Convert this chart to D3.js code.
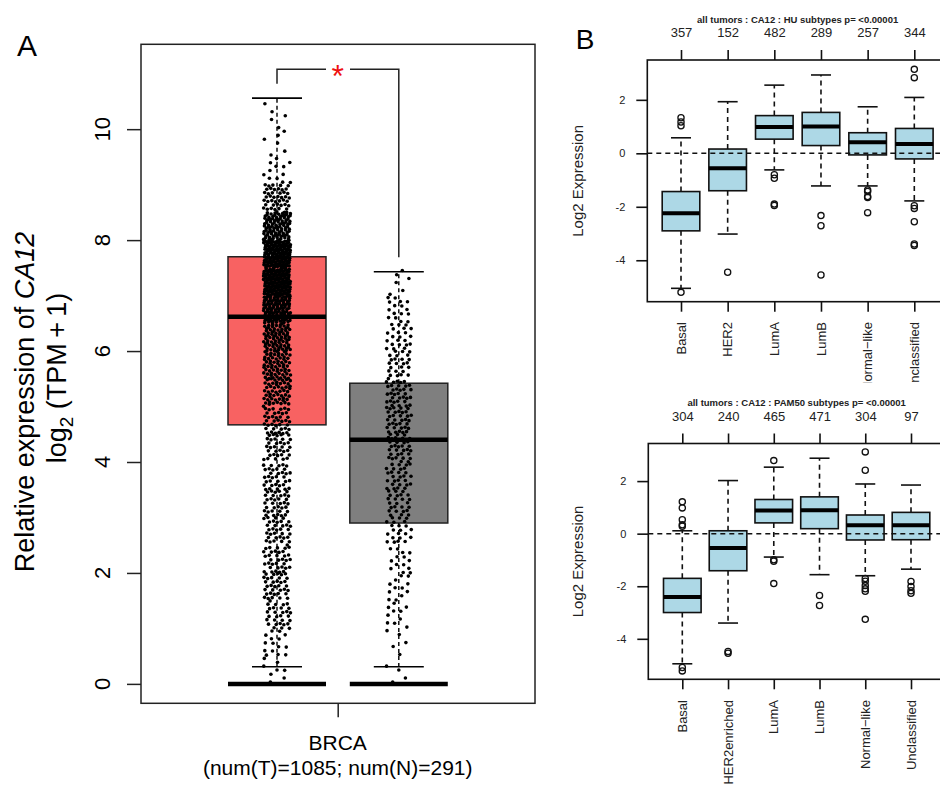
<!DOCTYPE html>
<meta charset="utf-8">
<script src="https://cdn.jsdelivr.net/npm/d3@7"></script>
<style>
  body { margin: 0; background: #fff; }
  svg { font-family: "Liberation Sans", Arial, Helvetica, sans-serif; }
</style>
<div id="chart"></div>
<script>
// ---- Panel A: CA12 in BRCA, tumor vs normal ----
const groupsA = ["Tumor", "Normal"];
const whiskLowA = [0.31, 0.31];
const q1A = [4.67, 2.90];
const medianA = [6.62, 4.40];
const q3A = [7.70, 5.42];
const whiskHighA = [10.56, 7.43];
const ticksA = [0, 2, 4, 6, 8, 10];
// number of dots per 0.5-wide slice, starting at 0 (counted roughly off the strips)
const tumorBins = [8, 15, 30, 35, 35, 35, 35, 35, 35, 40, 55, 65, 80, 120, 150, 150, 100, 45, 12, 6, 5];
const normalBins = [4, 5, 10, 12, 14, 22, 25, 28, 33, 35, 34, 25, 22, 16, 6];

// ---- Panel B top: HU subtypes ----
const huNames = ["Basal", "HER2", "LumA", "LumB", "Normal\u2212like", "Unclassified"];
const huCounts = [357, 152, 482, 289, 257, 344];
const huLow = [-5.05, -3.02, -0.62, -1.22, -1.22, -1.78];
const huQ1 = [-2.90, -1.40, 0.53, 0.29, -0.06, -0.21];
const huMed = [-2.24, -0.56, 0.98, 1.00, 0.41, 0.35];
const huQ3 = [-1.43, 0.16, 1.41, 1.53, 0.77, 0.93];
const huHigh = [0.58, 1.93, 2.55, 2.93, 1.74, 2.09];
const huOut = [
  [1.33, 1.17, 1.03, -5.20],
  [-4.45],
  [-0.80, -0.93, -1.90, -1.95],
  [-2.33, -2.71, -4.55],
  [-1.37, -1.43, -1.62, -1.65, -2.22],
  [3.14, 2.83, -1.96, -2.06, -2.56, -3.39, -3.45]
];

// ---- Panel B bottom: PAM50 subtypes ----
const pamNames = ["Basal", "HER2enriched", "LumA", "LumB", "Normal\u2212like", "Unclassified"];
const pamCounts = [304, 240, 465, 471, 304, 97];
const pamLow = [-4.95, -3.40, -0.89, -1.56, -1.60, -1.35];
const pamQ1 = [-3.00, -1.41, 0.41, 0.19, -0.24, -0.23];
const pamMed = [-2.41, -0.55, 0.88, 0.89, 0.32, 0.32];
const pamQ3 = [-1.70, 0.11, 1.30, 1.40, 0.71, 0.81];
const pamHigh = [0.11, 2.02, 2.53, 2.87, 1.89, 1.85];
const pamOut = [
  [1.21, 0.98, 0.53, 0.34, 0.28, -5.09, -5.22],
  [-4.48, -4.55],
  [2.78, -0.99, -1.05, -1.90],
  [-2.35, -2.73],
  [3.11, 2.41, -1.71, -1.81, -1.97, -2.10, -2.19, -3.26],
  [-1.82, -2.01, -2.17, -2.27]
];
const bTicks = [-4, -2, 0, 2];

const svg = d3.select("#chart").append("svg")
  .attr("width", 940)
  .attr("height", 785);

// ================= Panel A =================
const fA = {left: 141, right: 535, top: 44.3, bottom: 703.3};
const yA = d3.scaleLinear().domain([-0.35, 11.53]).range([fA.bottom, fA.top]);
const xA = d3.scalePoint().domain(groupsA).range([277, 398.8]);
const boxHalfA = 49;
const fillA = ["#F86262", "#7F7F7F"];

const gA = svg.append("g");

groupsA.forEach((g, i) => {
  const cx = xA(g);
  // box
  gA.append("rect")
    .attr("x", cx - boxHalfA).attr("width", boxHalfA * 2)
    .attr("y", yA(q3A[i])).attr("height", yA(q1A[i]) - yA(q3A[i]))
    .attr("fill", fillA[i]).attr("stroke", "#222").attr("stroke-width", 1.5);
  gA.append("line")
    .attr("x1", cx - boxHalfA).attr("x2", cx + boxHalfA)
    .attr("y1", yA(medianA[i])).attr("y2", yA(medianA[i]))
    .attr("stroke", "#000").attr("stroke-width", 4.5);
  // whiskers
  [[q3A[i], whiskHighA[i]], [q1A[i], whiskLowA[i]]].forEach(([a, b]) => {
    gA.append("line")
      .attr("x1", cx).attr("x2", cx).attr("y1", yA(a)).attr("y2", yA(b))
      .attr("stroke", "#000").attr("stroke-width", 1.4).attr("stroke-dasharray", "4,3");
    gA.append("line")
      .attr("x1", cx - 25).attr("x2", cx + 25).attr("y1", yA(b)).attr("y2", yA(b))
      .attr("stroke", "#000").attr("stroke-width", 1.6);
  });
  // values at zero
  gA.append("line")
    .attr("x1", cx - boxHalfA).attr("x2", cx + boxHalfA)
    .attr("y1", yA(0)).attr("y2", yA(0))
    .attr("stroke", "#000").attr("stroke-width", 4.5);
});

// jittered dots, spread evenly inside each slice
function stripPoints(bins, cx, hw) {
  const pts = [];
  let k = 0;
  bins.forEach((c, b) => {
    for (let j = 0; j < c; j++) {
      const u = (0.5 + k * 0.7548776662) % 1;
      const v = (0.5 + k * 0.5698402910) % 1;
      pts.push({x: cx + (u * 2 - 1) * hw, v: b * 0.5 + v * 0.5});
      k++;
    }
  });
  return pts;
}
const dots = stripPoints(tumorBins, xA("Tumor"), 13.5)
  .concat(stripPoints(normalBins, xA("Normal"), 12.5));
gA.selectAll("circle.dot")
  .data(dots)
  .join("circle")
    .attr("class", "dot")
    .attr("cx", d => d.x)
    .attr("cy", d => yA(d.v))
    .attr("r", 1.8)
    .attr("fill", "#000");

// frame
gA.append("rect")
  .attr("x", fA.left).attr("y", fA.top)
  .attr("width", fA.right - fA.left).attr("height", fA.bottom - fA.top)
  .attr("fill", "none").attr("stroke", "#222").attr("stroke-width", 1.5);

// y axis
const axA = gA.append("g")
  .attr("transform", `translate(${fA.left},0)`)
  .call(d3.axisLeft(yA).tickValues(ticksA).tickSize(14).tickFormat(""));
axA.select(".domain").remove();
axA.selectAll("line").attr("stroke", "#222").attr("stroke-width", 1.5);
ticksA.forEach(t => {
  gA.append("text")
    .attr("transform", `translate(109.5,${yA(t)}) rotate(-90)`)
    .attr("text-anchor", "middle")
    .attr("font-size", 22)
    .text(t);
});

// x axis
const axAx = gA.append("g")
  .attr("transform", `translate(0,${fA.bottom})`)
  .call(d3.axisBottom(d3.scalePoint().domain(["BRCA"]).range([337.7, 337.7])).tickSize(14).tickFormat(""));
axAx.select(".domain").remove();
axAx.selectAll("line").attr("stroke", "#222").attr("stroke-width", 1.5);
gA.append("text").attr("x", 337.7).attr("y", 750).attr("text-anchor", "middle")
  .attr("font-size", 21).text("BRCA");
gA.append("text").attr("x", 337.7).attr("y", 775).attr("text-anchor", "middle")
  .attr("font-size", 21).text(`(num(T)=1085; num(N)=291)`);

// y title
const t1 = gA.append("text")
  .attr("transform", "translate(33.5,402) rotate(-90)")
  .attr("text-anchor", "middle")
  .attr("font-size", 27);
t1.append("tspan").text("Relative expression of ");
t1.append("tspan").attr("font-style", "italic").text("CA12");
const t2 = gA.append("text")
  .attr("transform", "translate(66,378) rotate(-90)")
  .attr("text-anchor", "middle")
  .attr("font-size", 27);
t2.append("tspan").text("log");
t2.append("tspan").attr("font-size", 19).attr("dy", 7).text("2");
t2.append("tspan").attr("dy", -7).text(" (TPM\u2009+\u20091)");

// significance bracket
const brTop = whiskHighA[0] + 0.52;
gA.append("path")
  .attr("d", `M${xA("Tumor")},${yA(whiskHighA[0] + 0.26)}V${yA(brTop)}H326
              M350,${yA(brTop)}H${xA("Normal")}V${yA(whiskHighA[1] + 0.26)}`)
  .attr("fill", "none").attr("stroke", "#222").attr("stroke-width", 1.5);
gA.append("text").attr("x", 337.7).attr("y", yA(brTop) + 18)
  .attr("text-anchor", "middle").attr("font-size", 32).attr("fill", "#EE1111").text("*");

// panel letters
svg.append("text").attr("x", 27).attr("y", 56).attr("text-anchor", "middle")
  .attr("font-size", 30).text("A");
svg.append("text").attr("x", 585).attr("y", 48.5).attr("text-anchor", "middle")
  .attr("font-size", 28).text("B");

// ================= Panel B =================
svg.append("defs").append("clipPath").attr("id", "clipHU")
  .append("rect").attr("x", 600).attr("y", 300).attr("width", 340).attr("height", 83);

function subtypePanel(p) {
  const g = svg.append("g");
  const x = d3.scalePoint().domain(p.names).range(p.xRange);
  const y = d3.scaleLinear().domain(p.yDomain).range([p.bottom, p.top]);
  const hw = 18.8, cap = 10;

  p.names.forEach((n, i) => {
    const cx = x(n);
    [[p.q3[i], p.high[i]], [p.q1[i], p.low[i]]].forEach(([a, b]) => {
      g.append("line")
        .attr("x1", cx).attr("x2", cx).attr("y1", y(a)).attr("y2", y(b))
        .attr("stroke", "#111").attr("stroke-width", 1.6).attr("stroke-dasharray", "5,4");
      g.append("line")
        .attr("x1", cx - cap).attr("x2", cx + cap).attr("y1", y(b)).attr("y2", y(b))
        .attr("stroke", "#111").attr("stroke-width", 1.6);
    });
    g.append("rect")
      .attr("x", cx - hw).attr("width", hw * 2)
      .attr("y", y(p.q3[i])).attr("height", y(p.q1[i]) - y(p.q3[i]))
      .attr("fill", "#ADD8E6").attr("stroke", "#111").attr("stroke-width", 1.6);
    g.append("line")
      .attr("x1", cx - hw).attr("x2", cx + hw)
      .attr("y1", y(p.med[i])).attr("y2", y(p.med[i]))
      .attr("stroke", "#000").attr("stroke-width", 4);
    g.selectAll(null)
      .data(p.outliers[i])
      .join("circle")
        .attr("cx", cx).attr("cy", d => y(d)).attr("r", 3.1)
        .attr("fill", "none").attr("stroke", "#111").attr("stroke-width", 1.3);
  });

  // dashed zero line
  g.append("line")
    .attr("x1", p.left).attr("x2", p.right).attr("y1", y(0)).attr("y2", y(0))
    .attr("stroke", "#111").attr("stroke-width", 1.5).attr("stroke-dasharray", "5,4");

  // frame
  g.append("rect")
    .attr("x", p.left).attr("y", p.top)
    .attr("width", p.right - p.left).attr("height", p.bottom - p.top)
    .attr("fill", "none").attr("stroke", "#111").attr("stroke-width", 1.6);

  // left axis
  const ay = g.append("g")
    .attr("transform", `translate(${p.left},0)`)
    .call(d3.axisLeft(y).tickValues(bTicks).tickSize(11).tickPadding(11).tickFormat(d => String(d)));
  ay.select(".domain").remove();
  ay.selectAll("line").attr("stroke", "#111").attr("stroke-width", 1.6);
  ay.selectAll("text").attr("font-size", 11).attr("fill", "#222").attr("font-family", null);

  // top axis with group sizes
  const at = g.append("g")
    .attr("transform", `translate(0,${p.top})`)
    .call(d3.axisTop(x).tickSize(10).tickPadding(13).tickFormat((d, i) => p.counts[i]));
  at.select(".domain").remove();
  at.selectAll("line").attr("stroke", "#111").attr("stroke-width", 1.6);
  at.selectAll("text").attr("font-size", 13).attr("fill", "#222").attr("font-family", null);

  // bottom axis with rotated names
  const ab = g.append("g")
    .attr("transform", `translate(0,${p.bottom})`)
    .call(d3.axisBottom(x).tickSize(10).tickFormat(""));
  ab.select(".domain").remove();
  ab.selectAll("line").attr("stroke", "#111").attr("stroke-width", 1.6);
  const lab = g.append("g");
  if (p.clip) lab.attr("clip-path", `url(#${p.clip})`);
  p.names.forEach(n => {
    lab.append("text")
      .attr("transform", `translate(${x(n) + 4.6},${p.labelTop}) rotate(-90)`)
      .attr("text-anchor", "end")
      .attr("font-size", 13)
      .attr("fill", "#222")
      .text(n);
  });

  // title
  g.append("text")
    .attr("x", (p.xRange[0] + p.xRange[1]) / 2).attr("y", p.titleY)
    .attr("text-anchor", "middle").attr("font-size", 9.5).attr("font-weight", "bold")
    .attr("fill", "#222")
    .text(p.title);

  // y title
  g.append("text")
    .attr("transform", `translate(582.5,${(p.top + p.bottom) / 2}) rotate(-90)`)
    .attr("text-anchor", "middle").attr("font-size", 15).attr("fill", "#222")
    .text("Log2 Expression");
}

subtypePanel({
  names: huNames, counts: huCounts,
  low: huLow, q1: huQ1, med: huMed, q3: huQ3, high: huHigh, outliers: huOut,
  title: "all tumors : CA12 : HU subtypes p= <0.00001",
  xRange: [681, 914.3], yDomain: [-5.55, 3.49],
  left: 647.3, right: 946, top: 60, bottom: 301.7,
  labelTop: 322, titleY: 23, clip: "clipHU"
});

subtypePanel({
  names: pamNames, counts: pamCounts,
  low: pamLow, q1: pamQ1, med: pamMed, q3: pamQ3, high: pamHigh, outliers: pamOut,
  title: "all tumors : CA12 : PAM50 subtypes p= <0.00001",
  xRange: [682.3, 911], yDomain: [-5.54, 3.43],
  left: 648.3, right: 946, top: 443.5, bottom: 679.3,
  labelTop: 700, titleY: 406
});
</script>
